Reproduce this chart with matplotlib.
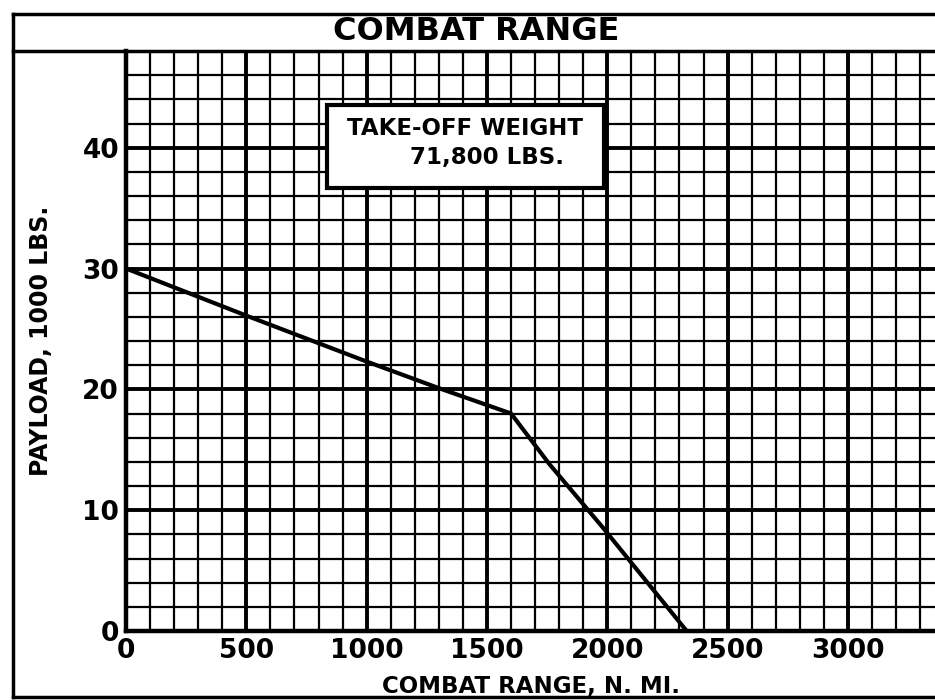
import matplotlib
matplotlib.use("Agg")
import matplotlib.pyplot as plt
from matplotlib.lines import Line2D
from matplotlib.patches import Rectangle
import numpy as np

# Data
range_nmi = [0, 500, 1000, 1300, 1600, 1760, 1980, 2330]
payload_k = [30.0, 26.1, 22.3, 20.1, 18.0, 13.8, 8.6, 0.0]
x_ticks = [0, 500, 1000, 1500, 2000, 2500, 3000]
x_ticklabels = ["0", "500", "1000", "1500", "2000", "2500", "3000"]
y_ticks = [0, 10, 20, 30, 40]
y_ticklabels = ["0", "10", "20", "30", "40"]
title = "COMBAT RANGE"
xlabel = "COMBAT RANGE, N. MI."
ylabel = "PAYLOAD, 1000 LBS."
note_line1 = "TAKE-OFF WEIGHT"
note_line2 = "71,800 LBS."

plt.rcParams['font.family'] = ['DejaVu Sans']
plt.rcParams['font.weight'] = 'bold'

W, H = 935, 700
fig = plt.figure(figsize=(W / 100, H / 100), dpi=100)
fig.patch.set_facecolor('white')

left_px, right_px, top_px, bot_px = 126, 935, 51, 631
ax = fig.add_axes([left_px / W, 1 - bot_px / H, (right_px - left_px) / W, (bot_px - top_px) / H])
ax.set_xlim(0, 3362)
ax.set_ylim(0, 48)

# grid
for xv in np.arange(100, 3400, 100):
    lw = 2.8 if xv % 500 == 0 else 1.6
    ax.axvline(xv, color='black', lw=lw, zorder=1)
for yv in np.arange(2, 49, 2):
    lw = 2.8 if yv % 10 == 0 else 1.6
    ax.axhline(yv, color='black', lw=lw, zorder=1)

for s in ['left', 'bottom']:
    ax.spines[s].set_linewidth(3.2)
for s in ['right', 'top']:
    ax.spines[s].set_visible(False)

ax.plot(range_nmi, payload_k, color='black', lw=3.0, zorder=3, solid_joinstyle='miter')

ax.set_xticks(x_ticks)
ax.set_xticklabels(x_ticklabels, fontsize=19, fontweight='bold')
ax.set_yticks(y_ticks)
ax.set_yticklabels(y_ticklabels, fontsize=19, fontweight='bold')
ax.tick_params(length=0, pad=5)

ax.set_xlabel(xlabel, fontsize=16.5, fontweight='bold', labelpad=8)
ax.set_ylabel(ylabel, fontsize=17, fontweight='bold', labelpad=21)

# note box
ax.add_patch(Rectangle((835, 36.7), 1985 - 835, 43.5 - 36.7, facecolor='white',
                       edgecolor='black', linewidth=3, zorder=5))
ax.text(1410, 41.6, note_line1, ha='center', va='center', fontsize=16.5,
        fontweight='bold', zorder=6)
ax.text(1500, 39.2, note_line2, ha='center', va='center', fontsize=16.5,
        fontweight='bold', zorder=6)

# outer frame and title band
fig.add_artist(Line2D([13 / W, 13 / W], [1 - 14 / H, 1 - 697 / H], color='black', lw=2.5))
fig.add_artist(Line2D([13 / W, 1.0], [1 - 14 / H, 1 - 14 / H], color='black', lw=2.5))
fig.add_artist(Line2D([13 / W, 1.0], [1 - 51 / H, 1 - 51 / H], color='black', lw=2.5))
fig.add_artist(Line2D([13 / W, 1.0], [1 - 697 / H, 1 - 697 / H], color='black', lw=2.5))
fig.text(476 / W, 1 - 32 / H, title, ha='center', va='center', fontsize=23, fontweight='bold')

fig.savefig("out.png", dpi=100, facecolor='white')
